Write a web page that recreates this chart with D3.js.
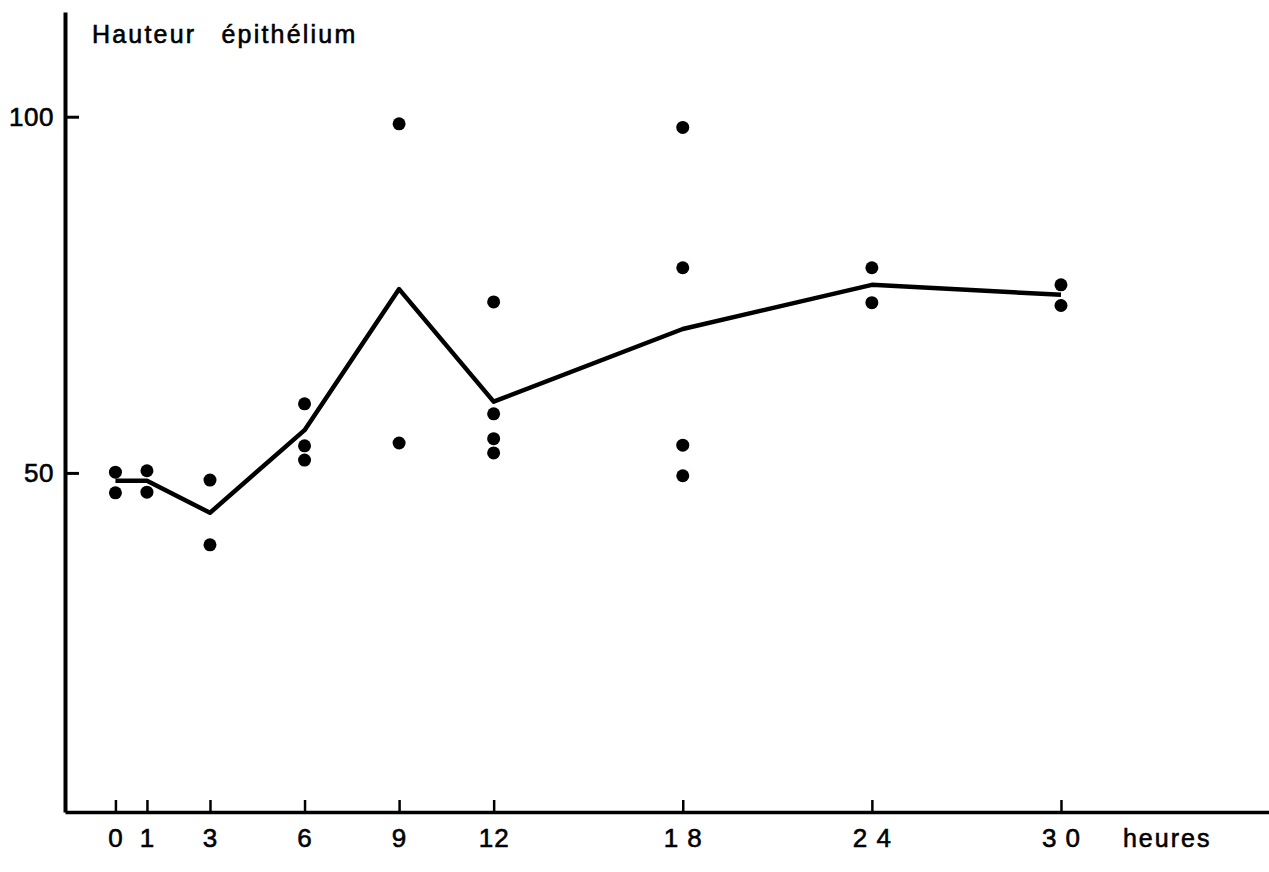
<!DOCTYPE html>
<html>
<head>
<meta charset="utf-8">
<script src="https://cdn.jsdelivr.net/npm/d3@7"></script>
<style>
  body { margin: 0; background: #fff; }
  text { font-family: "Liberation Sans", Arial, sans-serif; fill: #000; stroke: #000; stroke-width: 0.6px; }
</style>
</head>
<body>
<div id="app"></div>
<script>
// data
const hours = [0, 1, 3, 6, 9, 12, 18, 24, 30]
const measures = [
  [50.1, 47.2],
  [50.3, 47.3],
  [49.0, 39.9],
  [59.7, 53.8, 51.8],
  [99.0, 54.2],
  [74.0, 58.3, 54.8, 52.8],
  [98.5, 78.8, 53.9, 49.6],
  [78.8, 73.9],
  [76.4, 73.5]
]
const means = [48.9, 48.9, 44.4, 56.0, 75.8, 60.0, 70.2, 76.4, 75.0]
const xTickLabels = ['0', '1', '3', '6', '9', '12', '1 8', '2 4', '3 0']
const yTicks = [50, 100]

const margin = { left: 65, top: 12, right: 0, bottom: 60 }
const bounds = {
  width: 1269 - margin.left - margin.right,
  height: 872 - margin.top - margin.bottom
}

const svg = d3.select('#app')
              .append('svg')
                .attr('width', 1269)
                .attr('height', 872)
              .append('g')
                .attr('transform', `translate(${margin.left}, ${margin.top})`)

// scales
const xScale = d3.scaleLinear()
                  .domain([-1.6, 36.6])
                  .range([0, bounds.width])
const yScale = d3.scaleLinear()
                  .domain([2.4, 114.7])
                  .range([bounds.height, 0])

// y axis : ticks pointing inward, labels on the left
const yAxisGenerator = d3.axisLeft(yScale)
                          .tickValues(yTicks)
                          .tickSizeInner(-14)
                          .tickSizeOuter(0)
                          .tickPadding(11)
const yAxis = svg.append('g').call(yAxisGenerator)
yAxis.select('.domain').attr('stroke', '#000').attr('stroke-width', 4)
yAxis.selectAll('.tick line').attr('stroke', '#000').attr('stroke-width', 3)
yAxis.selectAll('.tick text')
      .attr('font-size', 26)
      .attr('letter-spacing', 0.5)
      .attr('font-family', null)
      .attr('fill', null)

// x axis : ticks pointing up, labels below
const xAxisGenerator = d3.axisBottom(xScale)
                          .tickValues(hours)
                          .tickFormat((d, i) => xTickLabels[i])
                          .tickSizeInner(-12)
                          .tickSizeOuter(0)
                          .tickPadding(17)
const xAxis = svg.append('g')
                  .attr('transform', `translate(0, ${bounds.height})`)
                  .call(xAxisGenerator)
xAxis.select('.domain').attr('stroke', '#000').attr('stroke-width', 3.5)
xAxis.selectAll('.tick line').attr('stroke', '#000').attr('stroke-width', 2.5)
xAxis.selectAll('.tick text')
      .attr('font-size', 26)
      .attr('letter-spacing', 1)
      .attr('font-family', null)
      .attr('fill', null)

svg.append('text')
    .attr('x', xScale(30) + 62)
    .attr('y', bounds.height + 17)
    .attr('dy', '0.71em')
    .attr('font-size', 25)
    .attr('letter-spacing', 2)
    .text('heures')

svg.append('text')
    .attr('x', 27)
    .attr('y', 31)
    .attr('font-size', 25)
    .attr('letter-spacing', 2.2)
    .attr('word-spacing', 16)
    .text('Hauteur épithélium')

// mean line
const line = d3.line()
                .x((d, i) => xScale(hours[i]))
                .y(d => yScale(d))
svg.append('path')
    .datum(means)
    .attr('fill', 'none')
    .attr('stroke', '#000')
    .attr('stroke-width', 4.5)
    .attr('stroke-linejoin', 'round')
    .attr('d', line)

// individual values
const points = hours.flatMap((h, i) => measures[i].map(v => ({ h, v })))
svg.selectAll('.dot')
    .data(points)
    .join('circle')
      .classed('dot', true)
      .attr('cx', d => xScale(d.h))
      .attr('cy', d => yScale(d.v))
      .attr('r', 6.5)
      .attr('fill', '#000')
</script>
</body>
</html>
